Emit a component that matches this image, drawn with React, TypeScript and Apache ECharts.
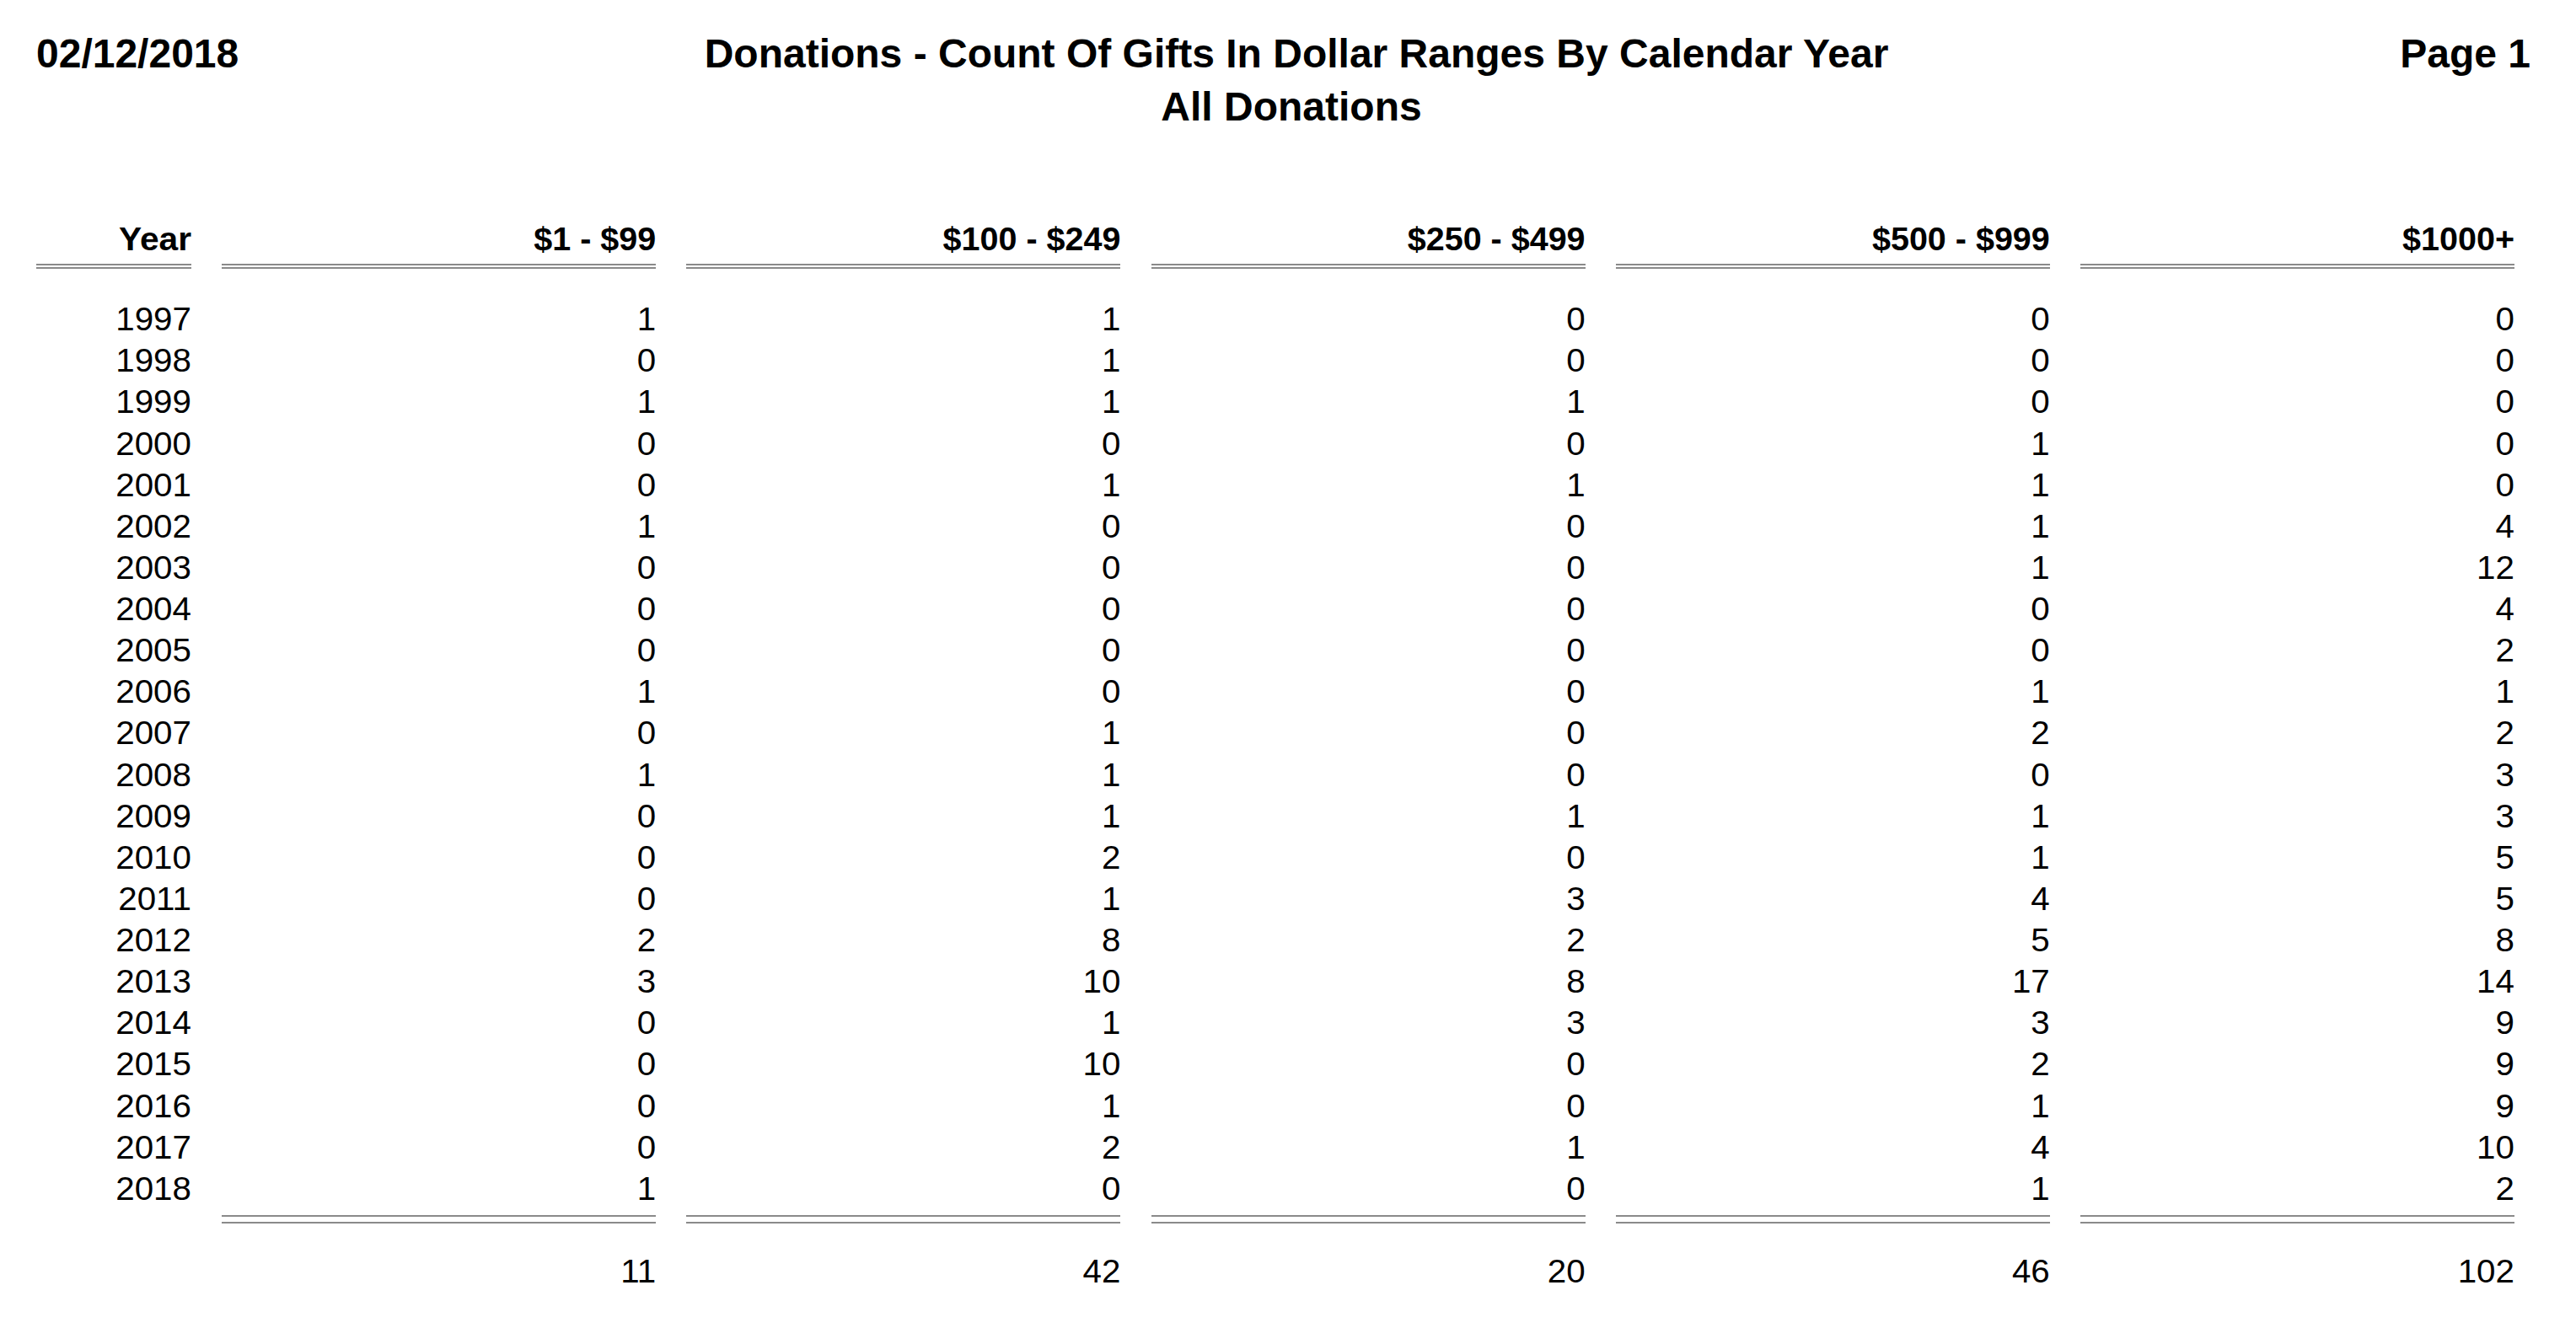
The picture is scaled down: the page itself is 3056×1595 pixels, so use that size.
import React, { useEffect, useRef } from "react";
import * as echarts from "echarts";

const reportDate = "02/12/2018";
const reportTitle = "Donations - Count Of Gifts In Dollar Ranges By Calendar Year";
const reportSubtitle = "All Donations";
const pageLabel = "Page 1";
const yearHeader = "Year";

const years = [
  "1997", "1998", "1999", "2000", "2001", "2002", "2003", "2004", "2005", "2006", "2007",
  "2008", "2009", "2010", "2011", "2012", "2013", "2014", "2015", "2016", "2017", "2018",
];
const ranges = ["$1 - $99", "$100 - $249", "$250 - $499", "$500 - $999", "$1000+"];

const gifts1to99 = [1, 0, 1, 0, 0, 1, 0, 0, 0, 1, 0, 1, 0, 0, 0, 2, 3, 0, 0, 0, 0, 1];
const gifts100to249 = [1, 1, 1, 0, 1, 0, 0, 0, 0, 0, 1, 1, 1, 2, 1, 8, 10, 1, 10, 1, 2, 0];
const gifts250to499 = [0, 0, 1, 0, 1, 0, 0, 0, 0, 0, 0, 0, 1, 0, 3, 2, 8, 3, 0, 0, 1, 0];
const gifts500to999 = [0, 0, 0, 1, 1, 1, 1, 0, 0, 1, 2, 0, 1, 1, 4, 5, 17, 3, 2, 1, 4, 1];
const gifts1000plus = [0, 0, 0, 0, 0, 4, 12, 4, 2, 1, 2, 3, 3, 5, 5, 8, 14, 9, 9, 9, 10, 2];
const totals = [11, 42, 20, 46, 102];

const FONT = '"Liberation Sans", Arial, Helvetica, sans-serif';

type Cell = { col: number; row: number; text: string; bold: boolean; size: number; sx: number };

const HEADER_ROW = -1.95;
const TOTAL_ROW = 23;
const HEADER_RULE_ROW = -1.272;
const TOTAL_RULE_ROW = 21.753;

export default function App() {
  const ref = useRef<HTMLDivElement>(null);

  useEffect(() => {
    if (!ref.current) return;
    const chart = echarts.init(ref.current, undefined, { renderer: "svg" });

    const columns = [gifts1to99, gifts100to249, gifts250to499, gifts500to999, gifts1000plus];
    const cells: Cell[] = [];
    cells.push({ col: 0, row: HEADER_ROW, text: yearHeader, bold: true, size: 39.5, sx: 1.03 });
    ranges.forEach((r, i) =>
      cells.push({ col: i + 1, row: HEADER_ROW, text: r, bold: true, size: 39.5, sx: 1 })
    );
    years.forEach((y, ri) => {
      cells.push({ col: 0, row: ri, text: y, bold: false, size: 39, sx: 1.035 });
      columns.forEach((vals, ci) =>
        cells.push({ col: ci + 1, row: ri, text: String(vals[ri]), bold: false, size: 39, sx: 1.035 })
      );
    });
    totals.forEach((t, ci) =>
      cells.push({ col: ci + 1, row: TOTAL_ROW, text: String(t), bold: false, size: 39, sx: 1.035 })
    );

    type Rule = { col: number; row: number; gap: number };
    const rules: Rule[] = [];
    for (let c = 0; c <= ranges.length; c++) rules.push({ col: c, row: HEADER_RULE_ROW, gap: 4 });
    for (let c = 1; c <= ranges.length; c++) rules.push({ col: c, row: TOTAL_RULE_ROW, gap: 8 });

    const option: any = {
      animation: false,
      backgroundColor: "#ffffff",
      grid: { left: 227, right: 73, top: 280.26, bottom: 86.74 },
      xAxis: { type: "value", min: 0, max: ranges.length, show: false },
      yAxis: { type: "value", min: -2, max: 23, inverse: true, show: false },
      graphic: [
        {
          type: "text",
          x: 43,
          y: 63.4,
          style: { text: reportDate, font: `bold 48px ${FONT}`, fill: "#000", align: "left", verticalAlign: "middle" },
        },
        {
          type: "text",
          x: 1538,
          y: 63.4,
          style: { text: reportTitle, font: `bold 48px ${FONT}`, fill: "#000", align: "center", verticalAlign: "middle" },
        },
        {
          type: "text",
          x: 1532,
          y: 126.4,
          style: { text: reportSubtitle, font: `bold 48px ${FONT}`, fill: "#000", align: "center", verticalAlign: "middle" },
        },
        {
          type: "text",
          x: 3002,
          y: 63.4,
          style: { text: pageLabel, font: `bold 48px ${FONT}`, fill: "#000", align: "right", verticalAlign: "middle" },
        },
      ],
      series: [
        {
          type: "custom",
          name: "rules",
          clip: false,
          silent: true,
          data: rules.map((r) => [r.col, r.row]),
          renderItem: (params: any, api: any) => {
            const r = rules[params.dataIndex];
            const p = api.coord([api.value(0), api.value(1)]);
            const right = Math.round(p[0]);
            const left = r.col === 0 ? 43 : right - 515;
            const yTop = Math.round(p[1] - r.gap / 2) - 1;
            const yBot = Math.round(p[1] + r.gap / 2) - 1;
            return {
              type: "group",
              children: [
                { type: "rect", shape: { x: left, y: yTop, width: right - left, height: 2 }, style: { fill: "#8a8a8a" } },
                { type: "rect", shape: { x: left, y: yBot, width: right - left, height: 2 }, style: { fill: "#8a8a8a" } },
              ],
            };
          },
        },
        {
          type: "custom",
          name: "cells",
          clip: false,
          silent: true,
          data: cells.map((c) => [c.col, c.row]),
          renderItem: (params: any, api: any) => {
            const c = cells[params.dataIndex];
            const p = api.coord([api.value(0), api.value(1)]);
            return {
              type: "text",
              x: p[0],
              y: p[1],
              scaleX: c.sx,
              scaleY: 1,
              style: {
                text: c.text,
                font: `${c.bold ? "bold " : ""}${c.size}px ${FONT}`,
                fill: "#000",
                align: "right",
                verticalAlign: "middle",
              },
            };
          },
        },
      ],
    };

    chart.setOption(option);
    return () => chart.dispose();
  }, []);

  return (
    <div
      ref={ref}
      style={{ position: "fixed", left: 0, top: 0, width: 3056, height: 1595, background: "#fff" }}
    />
  );
}
